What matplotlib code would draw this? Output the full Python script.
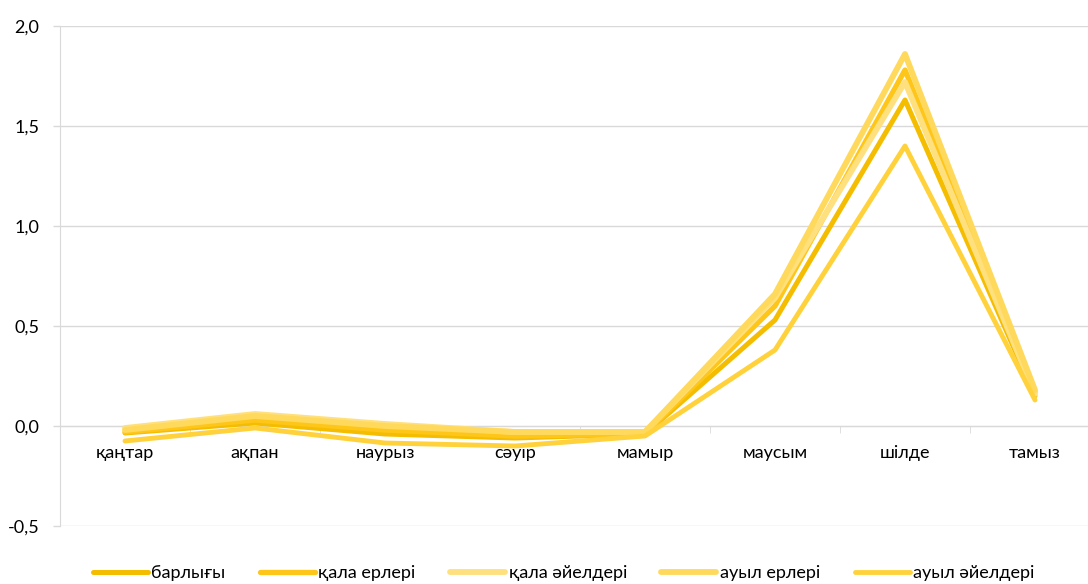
import matplotlib.pyplot as plt
import numpy as np
from matplotlib.ticker import FixedLocator, FuncFormatter

plt.rcParams['font.family'] = ['Lato', 'DejaVu Sans']

# Months (Kazakh) and series values
months = ["қаңтар", "ақпан", "наурыз", "сәуір", "мамыр", "маусым", "шілде", "тамыз"]
series_names = ["барлығы", "қала ерлері", "қала әйелдері", "ауыл ерлері", "ауыл әйелдері"]
total = [-0.035, 0.015, -0.04, -0.06, -0.04, 0.53, 1.63, 0.15]
urban_men = [-0.03, 0.03, -0.02, -0.05, -0.04, 0.60, 1.78, 0.17]
urban_women = [-0.01, 0.06, 0.01, -0.03, -0.03, 0.64, 1.72, 0.16]
rural_men = [-0.02, 0.05, 0.0, -0.03, -0.03, 0.66, 1.86, 0.18]
rural_women = [-0.075, -0.01, -0.085, -0.10, -0.05, 0.38, 1.40, 0.13]

colors = ["#F5BD00", "#FFC61A", "#FFE07E", "#FFD95C", "#FFD23C"]
widths = [3.6, 3.8, 4.2, 4.2, 3.5]

fig = plt.figure(figsize=(10.88, 5.84), dpi=100)
# plot area runs a little past the right edge of the canvas
ax = fig.add_axes([60 / 1088, 58 / 584, 1040 / 1088, 500 / 584])

x = np.arange(len(months))
all_series = [total, urban_men, urban_women, rural_men, rural_women]
for i, vals in enumerate(all_series):
    ax.plot(x, vals, color=colors[i], lw=widths[i], label=series_names[i],
            solid_capstyle='round', solid_joinstyle='round', zorder=3)

ax.set_xlim(-0.5, len(months) - 0.5)
ax.set_ylim(-0.5, 2.0)
ax.set_yticks([-0.5, 0.0, 0.5, 1.0, 1.5, 2.0])
ax.yaxis.set_major_formatter(FuncFormatter(lambda v, p: f"{v:.1f}".replace(".", ",")))
ax.grid(axis='y', color='#D9D9D9', lw=1.0)
ax.set_axisbelow(True)

# category axis drawn through zero, tick marks between categories
ax.spines['bottom'].set_position(('data', 0))
ax.spines['bottom'].set_color('#D9D9D9')
ax.spines['left'].set_color('#D9D9D9')
ax.spines['top'].set_visible(False)
ax.spines['right'].set_visible(False)
ax.xaxis.set_major_locator(FixedLocator(x))
ax.set_xticklabels(months)
ax.xaxis.set_minor_locator(FixedLocator(np.arange(0.5, len(months) - 1, 1.0)))
ax.tick_params(axis='x', which='major', length=0, pad=14, labelsize=13, colors='black')
ax.tick_params(axis='x', which='minor', length=5, color='#D9D9D9', direction='out')
ax.tick_params(axis='y', length=5, width=1.0, color='#D9D9D9', direction='out',
               pad=10, labelsize=13, labelcolor='black')

handles, labels = ax.get_legend_handles_labels()
fig.legend(handles, labels, loc='center', bbox_to_anchor=(0.518, 0.019), ncol=5,
           frameon=False, fontsize=13, handlelength=3.05, handletextpad=0.2,
           columnspacing=1.9)

fig.savefig("out.png", dpi=100)
